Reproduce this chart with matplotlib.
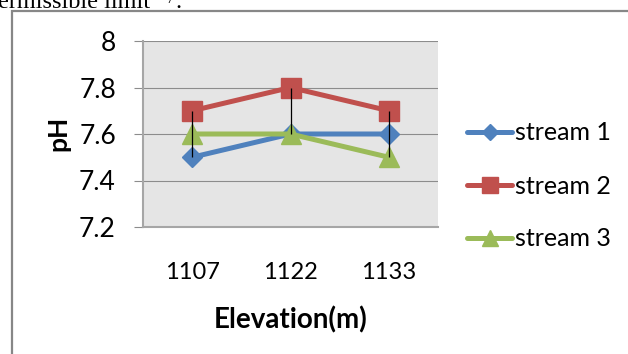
import numpy as np
import matplotlib
matplotlib.use('Agg')
import matplotlib.pyplot as plt
from matplotlib.patches import Rectangle

plt.rcParams['font.family'] = ['Lato', 'DejaVu Sans']

# pH readings per stream at each sampling elevation
elevations = ['1107', '1122', '1133']
stream1 = [7.5, 7.6, 7.6]
stream2 = [7.7, 7.8, 7.7]
stream3 = [7.6, 7.6, 7.5]
series_names = ['stream 1', 'stream 2', 'stream 3']
y_ticks = [7.2, 7.4, 7.6, 7.8, 8.0]
y_tick_labels = ['7.2', '7.4', '7.6', '7.8', '8']

W, H = 628, 354
fig = plt.figure(figsize=(W / 100, H / 100), dpi=100)

# bottom of the caption line from the page above the chart
fig.text(-2 / W, 1 - 8 / H, 'ermissible limit', family='Liberation Serif',
         fontsize=17.5, va='baseline', ha='left', color='black')
fig.text(166 / W, 1 - 3 / H, '7', family='Liberation Serif',
         fontsize=10, va='baseline', ha='left', color='black')
fig.text(175 / W, 1 - 8 / H, '.', family='Liberation Serif',
         fontsize=17.5, va='baseline', ha='left', color='black')

# chart frame
fig.add_artist(Rectangle((11.5 / W, -0.2), 1.2, 1 - 11 / H + 0.2,
                         transform=fig.transFigure, fill=False,
                         edgecolor='#878787', linewidth=1.6))

ax = fig.add_axes([143 / W, (H - 227) / H, (438 - 143) / W, (227 - 41) / H])
ax.set_facecolor('#E5E5E5')

x = np.arange(len(elevations))
colors = ['#4F81BD', '#C0504D', '#9BBB59']
markers = ['D', 's', '^']
sizes = [10, 15, 14]
for vals, name, c, m, s in zip([stream1, stream2, stream3], series_names, colors, markers, sizes):
    ax.plot(x, vals, color=c, marker=m, markersize=s, markeredgecolor=c,
            linewidth=3.6, label=name, zorder=3, solid_joinstyle='round',
            solid_capstyle='round')

# high-low lines between the series at each elevation
data = np.array([stream1, stream2, stream3])
ax.vlines(x, data.min(axis=0), data.max(axis=0), color='black', linewidth=0.9, zorder=5)

ax.set_xlim(-0.5, len(elevations) - 0.5)
ax.set_ylim(7.2, 8.0)
ax.set_yticks(y_ticks)
ax.set_yticklabels(y_tick_labels)
ax.set_xticks(x)
ax.set_xticklabels(elevations)
ax.grid(axis='y', color='#8C8C8C', linewidth=0.8, zorder=1)
ax.set_axisbelow(True)

for side in ['top', 'right']:
    ax.spines[side].set_visible(False)
for side in ['left', 'bottom']:
    ax.spines[side].set_color('#A6A6A6')
    ax.spines[side].set_linewidth(1.5)

ax.tick_params(axis='y', length=6.5, width=0.8, color='#8C8C8C', pad=13, labelsize=19)
ax.tick_params(axis='x', length=0, pad=25, labelsize=17)

ax.set_ylabel('pH', fontsize=19, fontweight='bold', va='center')
ax.yaxis.set_label_coords(-0.288, 0.505)
ax.set_xlabel('Elevation(m)', fontsize=20, fontweight='bold', va='center')
ax.xaxis.set_label_coords(0.5, -0.50)

leg = ax.legend(loc='center left', bbox_to_anchor=(467 / W, (H - 186) / H),
                bbox_transform=fig.transFigure, frameon=False, fontsize=18,
                handlelength=1.8, handletextpad=0.12, labelspacing=1.2,
                markerscale=0.8, borderaxespad=0, borderpad=0)

fig.savefig('out.png', dpi=100)
